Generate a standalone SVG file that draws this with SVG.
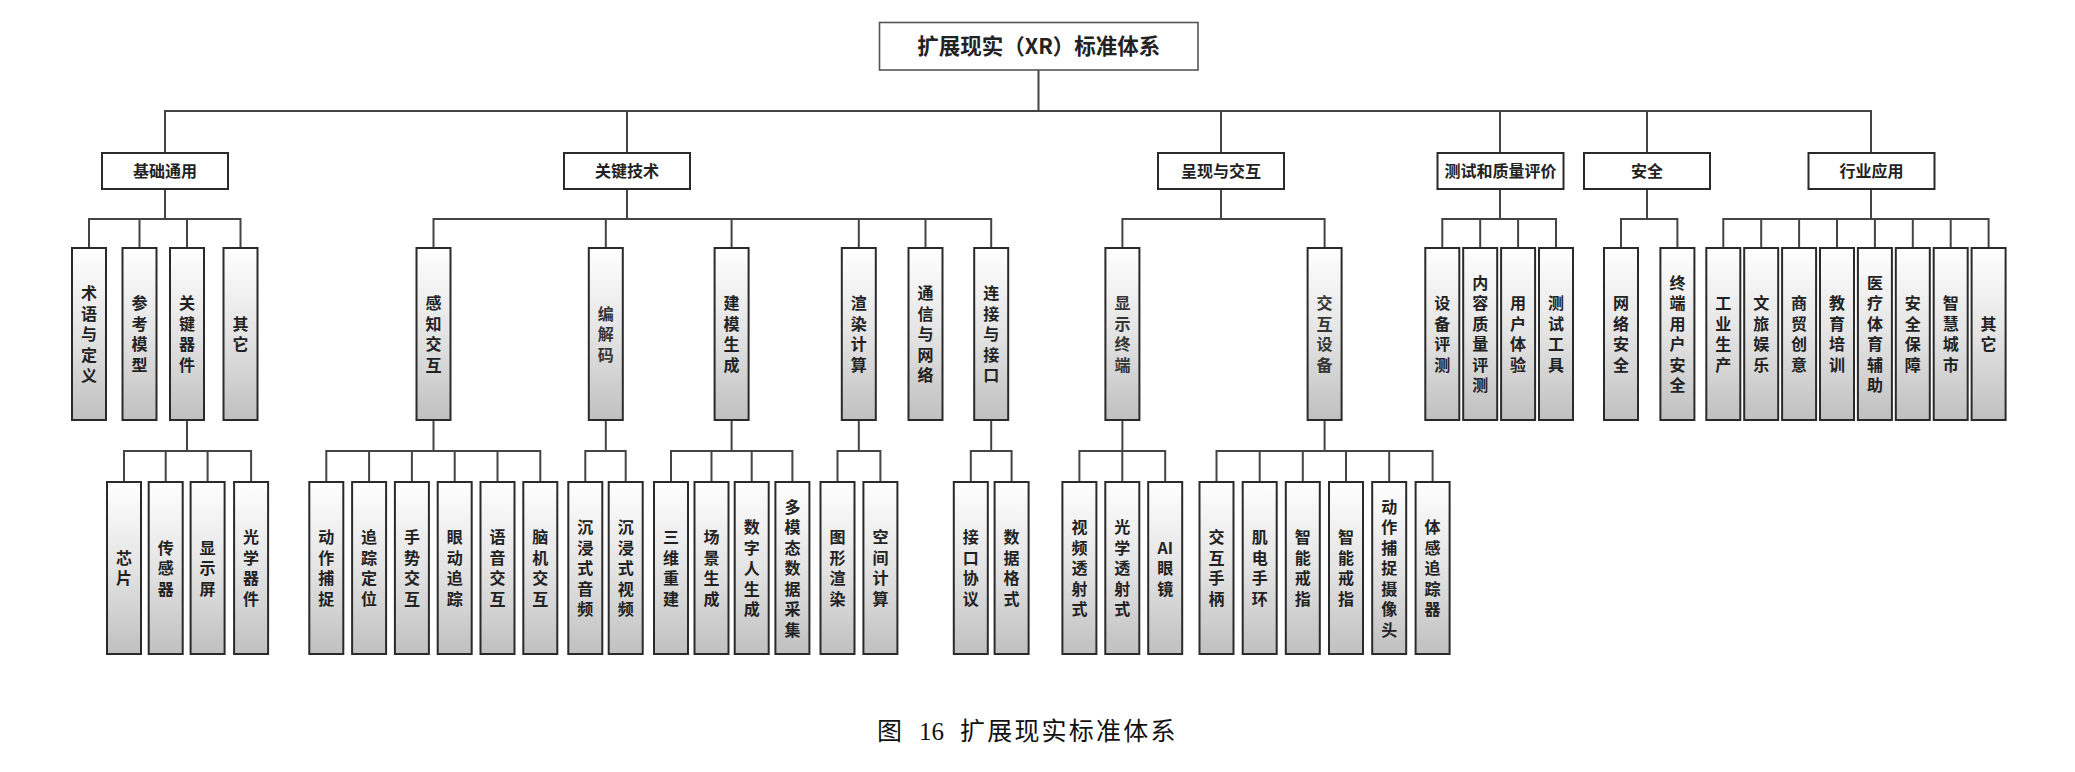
<svg xmlns="http://www.w3.org/2000/svg" width="2075" height="772" viewBox="0 0 2075 772">
<defs>
<linearGradient id="g" x1="0" y1="0" x2="0" y2="1">
<stop offset="0" stop-color="#ffffff"/>
<stop offset="0.5" stop-color="#e4e4e4"/>
<stop offset="1" stop-color="#c0c0c0"/>
</linearGradient>
<style>
.ln{fill:none;stroke:#444;stroke-width:2;stroke-linecap:square}
.rb{fill:#fff;stroke:#555;stroke-width:1.6}
.b1{fill:#fff;stroke:#2a2a2a;stroke-width:2}
.bx{fill:url(#g);stroke:#2a2a2a;stroke-width:2}
.t{font-family:"Noto Sans CJK SC","Noto Sans",sans-serif;font-weight:700;font-size:16px;text-anchor:middle;fill:#222}
.lt{fill:#363636}
.rt{font-size:21.5px}
.cap{font-family:"Liberation Serif","Noto Sans CJK SC",serif;font-size:25px;fill:#111}
</style>
</defs>
<g id="connectors">
<path class="ln" d="M1038.5 70V111M165 111H1871M165 111V153M627 111V153M1221 111V153M1500 111V153M1647 111V153M1871 111V153"/>
<path class="ln" d="M165 189V219M89 219H240.5M89 219V248M139.5 219V248M187 219V248M240.5 219V248"/>
<path class="ln" d="M627 189V219M433.5 219H991.2M433.5 219V248M605.8 219V248M731.6 219V248M858.8 219V248M925.5 219V248M991.2 219V248"/>
<path class="ln" d="M1221 189V219M1122.4 219H1324.6M1122.4 219V248M1324.6 219V248"/>
<path class="ln" d="M1500 189V219M1442.3 219H1556M1442.3 219V248M1480.2 219V248M1518.1 219V248M1556 219V248"/>
<path class="ln" d="M1647 189V219M1621 219H1677.4M1621 219V248M1677.4 219V248"/>
<path class="ln" d="M1871 189V219M1723.3 219H1988.6M1723.3 219V248M1761.2 219V248M1799.1 219V248M1837 219V248M1874.9 219V248M1912.8 219V248M1950.7 219V248M1988.6 219V248"/>
<path class="ln" d="M187 420V451M124 451H251.1M124 451V482M165.7 451V482M207.6 451V482M251.1 451V482"/>
<path class="ln" d="M433.5 420V451M326.3 451H540.3M326.3 451V482M369.1 451V482M411.9 451V482M454.7 451V482M497.5 451V482M540.3 451V482"/>
<path class="ln" d="M605.8 420V451M585.3 451H625.7M585.3 451V482M625.7 451V482"/>
<path class="ln" d="M731.6 420V451M671 451H792.4M671 451V482M711.5 451V482M751.7 451V482M792.4 451V482"/>
<path class="ln" d="M858.8 420V451M837.5 451H880.4M837.5 451V482M880.4 451V482"/>
<path class="ln" d="M991.2 420V451M970.8 451H1011.6M970.8 451V482M1011.6 451V482"/>
<path class="ln" d="M1122.4 420V451M1079.4 451H1165.2M1079.4 451V482M1122.3 451V482M1165.2 451V482"/>
<path class="ln" d="M1324.6 420V451M1216.5 451H1432.6M1216.5 451V482M1259.7 451V482M1302.8 451V482M1346 451V482M1389.2 451V482M1432.6 451V482"/>
</g>
<g id="root"><rect class="rb" x="879.5" y="22.5" width="318.5" height="47.5"/><text class="t rt" x="1038.8" y="54">扩展现实（XR）标准体系</text></g>
<g id="l1-jichu"><rect class="b1" x="102" y="153" width="126" height="36"/><text class="t" x="165" y="177">基础通用</text></g>
<g id="l1-guanjian"><rect class="b1" x="564" y="153" width="126" height="36"/><text class="t" x="627" y="177">关键技术</text></g>
<g id="l1-chengxian"><rect class="b1" x="1158" y="153" width="126" height="36"/><text class="t" x="1221" y="177">呈现与交互</text></g>
<g id="l1-ceshi"><rect class="b1" x="1437.5" y="153" width="126" height="36"/><text class="t" x="1500.5" y="177">测试和质量评价</text></g>
<g id="l1-anquan"><rect class="b1" x="1584" y="153" width="126" height="36"/><text class="t" x="1647" y="177">安全</text></g>
<g id="l1-hangye"><rect class="b1" x="1808.5" y="153" width="126" height="36"/><text class="t" x="1871.5" y="177">行业应用</text></g>

<g id="n-shuyu"><rect class="bx" x="72" y="248" width="34" height="172"/><text class="t" x="89" y="299"><tspan x="89">术</tspan><tspan x="89" dy="20.5">语</tspan><tspan x="89" dy="20.5">与</tspan><tspan x="89" dy="20.5">定</tspan><tspan x="89" dy="20.5">义</tspan></text></g>
<g id="n-cankao"><rect class="bx" x="122.5" y="248" width="34" height="172"/><text class="t" x="139.5" y="309.25"><tspan x="139.5">参</tspan><tspan x="139.5" dy="20.5">考</tspan><tspan x="139.5" dy="20.5">模</tspan><tspan x="139.5" dy="20.5">型</tspan></text></g>
<g id="n-guanjianqijian"><rect class="bx" x="170" y="248" width="34" height="172"/><text class="t" x="187" y="309.25"><tspan x="187">关</tspan><tspan x="187" dy="20.5">键</tspan><tspan x="187" dy="20.5">器</tspan><tspan x="187" dy="20.5">件</tspan></text></g>
<g id="n-qita1"><rect class="bx" x="223.5" y="248" width="34" height="172"/><text class="t" x="240.5" y="329.75"><tspan x="240.5">其</tspan><tspan x="240.5" dy="20.5">它</tspan></text></g>
<g id="n-ganzhi"><rect class="bx" x="416.5" y="248" width="34" height="172"/><text class="t" x="433.5" y="309.25"><tspan x="433.5">感</tspan><tspan x="433.5" dy="20.5">知</tspan><tspan x="433.5" dy="20.5">交</tspan><tspan x="433.5" dy="20.5">互</tspan></text></g>
<g id="n-bianjiema"><rect class="bx" x="588.8" y="248" width="34" height="172"/><text class="t lt" x="605.8" y="319.5"><tspan x="605.8">编</tspan><tspan x="605.8" dy="20.5">解</tspan><tspan x="605.8" dy="20.5">码</tspan></text></g>
<g id="n-jianmo"><rect class="bx" x="714.6" y="248" width="34" height="172"/><text class="t" x="731.6" y="309.25"><tspan x="731.6">建</tspan><tspan x="731.6" dy="20.5">模</tspan><tspan x="731.6" dy="20.5">生</tspan><tspan x="731.6" dy="20.5">成</tspan></text></g>
<g id="n-xuanran"><rect class="bx" x="841.8" y="248" width="34" height="172"/><text class="t" x="858.8" y="309.25"><tspan x="858.8">渲</tspan><tspan x="858.8" dy="20.5">染</tspan><tspan x="858.8" dy="20.5">计</tspan><tspan x="858.8" dy="20.5">算</tspan></text></g>
<g id="n-tongxin"><rect class="bx" x="908.5" y="248" width="34" height="172"/><text class="t" x="925.5" y="299"><tspan x="925.5">通</tspan><tspan x="925.5" dy="20.5">信</tspan><tspan x="925.5" dy="20.5">与</tspan><tspan x="925.5" dy="20.5">网</tspan><tspan x="925.5" dy="20.5">络</tspan></text></g>
<g id="n-lianjie"><rect class="bx" x="974.2" y="248" width="34" height="172"/><text class="t" x="991.2" y="299"><tspan x="991.2">连</tspan><tspan x="991.2" dy="20.5">接</tspan><tspan x="991.2" dy="20.5">与</tspan><tspan x="991.2" dy="20.5">接</tspan><tspan x="991.2" dy="20.5">口</tspan></text></g>
<g id="n-xianshizhongduan"><rect class="bx" x="1105.4" y="248" width="34" height="172"/><text class="t lt" x="1122.4" y="309.25"><tspan x="1122.4">显</tspan><tspan x="1122.4" dy="20.5">示</tspan><tspan x="1122.4" dy="20.5">终</tspan><tspan x="1122.4" dy="20.5">端</tspan></text></g>
<g id="n-jiaohushebei"><rect class="bx" x="1307.6" y="248" width="34" height="172"/><text class="t lt" x="1324.6" y="309.25"><tspan x="1324.6">交</tspan><tspan x="1324.6" dy="20.5">互</tspan><tspan x="1324.6" dy="20.5">设</tspan><tspan x="1324.6" dy="20.5">备</tspan></text></g>
<g id="n-shebeipingce"><rect class="bx" x="1425.3" y="248" width="34" height="172"/><text class="t" x="1442.3" y="309.25"><tspan x="1442.3">设</tspan><tspan x="1442.3" dy="20.5">备</tspan><tspan x="1442.3" dy="20.5">评</tspan><tspan x="1442.3" dy="20.5">测</tspan></text></g>
<g id="n-neirong"><rect class="bx" x="1463.2" y="248" width="34" height="172"/><text class="t" x="1480.2" y="288.75"><tspan x="1480.2">内</tspan><tspan x="1480.2" dy="20.5">容</tspan><tspan x="1480.2" dy="20.5">质</tspan><tspan x="1480.2" dy="20.5">量</tspan><tspan x="1480.2" dy="20.5">评</tspan><tspan x="1480.2" dy="20.5">测</tspan></text></g>
<g id="n-yonghu"><rect class="bx" x="1501.1" y="248" width="34" height="172"/><text class="t" x="1518.1" y="309.25"><tspan x="1518.1">用</tspan><tspan x="1518.1" dy="20.5">户</tspan><tspan x="1518.1" dy="20.5">体</tspan><tspan x="1518.1" dy="20.5">验</tspan></text></g>
<g id="n-ceshigongju"><rect class="bx" x="1539" y="248" width="34" height="172"/><text class="t" x="1556" y="309.25"><tspan x="1556">测</tspan><tspan x="1556" dy="20.5">试</tspan><tspan x="1556" dy="20.5">工</tspan><tspan x="1556" dy="20.5">具</tspan></text></g>
<g id="n-wangluo"><rect class="bx" x="1604" y="248" width="34" height="172"/><text class="t" x="1621" y="309.25"><tspan x="1621">网</tspan><tspan x="1621" dy="20.5">络</tspan><tspan x="1621" dy="20.5">安</tspan><tspan x="1621" dy="20.5">全</tspan></text></g>
<g id="n-zhongduan"><rect class="bx" x="1660.4" y="248" width="34" height="172"/><text class="t" x="1677.4" y="288.75"><tspan x="1677.4">终</tspan><tspan x="1677.4" dy="20.5">端</tspan><tspan x="1677.4" dy="20.5">用</tspan><tspan x="1677.4" dy="20.5">户</tspan><tspan x="1677.4" dy="20.5">安</tspan><tspan x="1677.4" dy="20.5">全</tspan></text></g>
<g id="n-gongye"><rect class="bx" x="1706.3" y="248" width="34" height="172"/><text class="t" x="1723.3" y="309.25"><tspan x="1723.3">工</tspan><tspan x="1723.3" dy="20.5">业</tspan><tspan x="1723.3" dy="20.5">生</tspan><tspan x="1723.3" dy="20.5">产</tspan></text></g>
<g id="n-wenlv"><rect class="bx" x="1744.2" y="248" width="34" height="172"/><text class="t" x="1761.2" y="309.25"><tspan x="1761.2">文</tspan><tspan x="1761.2" dy="20.5">旅</tspan><tspan x="1761.2" dy="20.5">娱</tspan><tspan x="1761.2" dy="20.5">乐</tspan></text></g>
<g id="n-shangmao"><rect class="bx" x="1782.1" y="248" width="34" height="172"/><text class="t" x="1799.1" y="309.25"><tspan x="1799.1">商</tspan><tspan x="1799.1" dy="20.5">贸</tspan><tspan x="1799.1" dy="20.5">创</tspan><tspan x="1799.1" dy="20.5">意</tspan></text></g>
<g id="n-jiaoyu"><rect class="bx" x="1820" y="248" width="34" height="172"/><text class="t" x="1837" y="309.25"><tspan x="1837">教</tspan><tspan x="1837" dy="20.5">育</tspan><tspan x="1837" dy="20.5">培</tspan><tspan x="1837" dy="20.5">训</tspan></text></g>
<g id="n-yiliao"><rect class="bx" x="1857.9" y="248" width="34" height="172"/><text class="t" x="1874.9" y="288.75"><tspan x="1874.9">医</tspan><tspan x="1874.9" dy="20.5">疗</tspan><tspan x="1874.9" dy="20.5">体</tspan><tspan x="1874.9" dy="20.5">育</tspan><tspan x="1874.9" dy="20.5">辅</tspan><tspan x="1874.9" dy="20.5">助</tspan></text></g>
<g id="n-anquanbaozhang"><rect class="bx" x="1895.8" y="248" width="34" height="172"/><text class="t" x="1912.8" y="309.25"><tspan x="1912.8">安</tspan><tspan x="1912.8" dy="20.5">全</tspan><tspan x="1912.8" dy="20.5">保</tspan><tspan x="1912.8" dy="20.5">障</tspan></text></g>
<g id="n-zhihui"><rect class="bx" x="1933.7" y="248" width="34" height="172"/><text class="t" x="1950.7" y="309.25"><tspan x="1950.7">智</tspan><tspan x="1950.7" dy="20.5">慧</tspan><tspan x="1950.7" dy="20.5">城</tspan><tspan x="1950.7" dy="20.5">市</tspan></text></g>
<g id="n-qita2"><rect class="bx" x="1971.6" y="248" width="34" height="172"/><text class="t" x="1988.6" y="329.75"><tspan x="1988.6">其</tspan><tspan x="1988.6" dy="20.5">它</tspan></text></g>

<g id="n-xinpian"><rect class="bx" x="107" y="482" width="34" height="172"/><text class="t" x="124" y="563.75"><tspan x="124">芯</tspan><tspan x="124" dy="20.5">片</tspan></text></g>
<g id="n-chuanganqi"><rect class="bx" x="148.7" y="482" width="34" height="172"/><text class="t" x="165.7" y="553.5"><tspan x="165.7">传</tspan><tspan x="165.7" dy="20.5">感</tspan><tspan x="165.7" dy="20.5">器</tspan></text></g>
<g id="n-xianshiping"><rect class="bx" x="190.6" y="482" width="34" height="172"/><text class="t" x="207.6" y="553.5"><tspan x="207.6">显</tspan><tspan x="207.6" dy="20.5">示</tspan><tspan x="207.6" dy="20.5">屏</tspan></text></g>
<g id="n-guangxueqijian"><rect class="bx" x="234.1" y="482" width="34" height="172"/><text class="t" x="251.1" y="543.25"><tspan x="251.1">光</tspan><tspan x="251.1" dy="20.5">学</tspan><tspan x="251.1" dy="20.5">器</tspan><tspan x="251.1" dy="20.5">件</tspan></text></g>
<g id="n-dongzuobuzhuo"><rect class="bx" x="309.3" y="482" width="34" height="172"/><text class="t" x="326.3" y="543.25"><tspan x="326.3">动</tspan><tspan x="326.3" dy="20.5">作</tspan><tspan x="326.3" dy="20.5">捕</tspan><tspan x="326.3" dy="20.5">捉</tspan></text></g>
<g id="n-zhuizong"><rect class="bx" x="352.1" y="482" width="34" height="172"/><text class="t" x="369.1" y="543.25"><tspan x="369.1">追</tspan><tspan x="369.1" dy="20.5">踪</tspan><tspan x="369.1" dy="20.5">定</tspan><tspan x="369.1" dy="20.5">位</tspan></text></g>
<g id="n-shoushi"><rect class="bx" x="394.9" y="482" width="34" height="172"/><text class="t" x="411.9" y="543.25"><tspan x="411.9">手</tspan><tspan x="411.9" dy="20.5">势</tspan><tspan x="411.9" dy="20.5">交</tspan><tspan x="411.9" dy="20.5">互</tspan></text></g>
<g id="n-yandong"><rect class="bx" x="437.7" y="482" width="34" height="172"/><text class="t" x="454.7" y="543.25"><tspan x="454.7">眼</tspan><tspan x="454.7" dy="20.5">动</tspan><tspan x="454.7" dy="20.5">追</tspan><tspan x="454.7" dy="20.5">踪</tspan></text></g>
<g id="n-yuyin"><rect class="bx" x="480.5" y="482" width="34" height="172"/><text class="t" x="497.5" y="543.25"><tspan x="497.5">语</tspan><tspan x="497.5" dy="20.5">音</tspan><tspan x="497.5" dy="20.5">交</tspan><tspan x="497.5" dy="20.5">互</tspan></text></g>
<g id="n-naoji"><rect class="bx" x="523.3" y="482" width="34" height="172"/><text class="t" x="540.3" y="543.25"><tspan x="540.3">脑</tspan><tspan x="540.3" dy="20.5">机</tspan><tspan x="540.3" dy="20.5">交</tspan><tspan x="540.3" dy="20.5">互</tspan></text></g>
<g id="n-yinpin"><rect class="bx" x="568.3" y="482" width="34" height="172"/><text class="t" x="585.3" y="533"><tspan x="585.3">沉</tspan><tspan x="585.3" dy="20.5">浸</tspan><tspan x="585.3" dy="20.5">式</tspan><tspan x="585.3" dy="20.5">音</tspan><tspan x="585.3" dy="20.5">频</tspan></text></g>
<g id="n-shipin"><rect class="bx" x="608.7" y="482" width="34" height="172"/><text class="t" x="625.7" y="533"><tspan x="625.7">沉</tspan><tspan x="625.7" dy="20.5">浸</tspan><tspan x="625.7" dy="20.5">式</tspan><tspan x="625.7" dy="20.5">视</tspan><tspan x="625.7" dy="20.5">频</tspan></text></g>
<g id="n-sanwei"><rect class="bx" x="654" y="482" width="34" height="172"/><text class="t" x="671" y="543.25"><tspan x="671">三</tspan><tspan x="671" dy="20.5">维</tspan><tspan x="671" dy="20.5">重</tspan><tspan x="671" dy="20.5">建</tspan></text></g>
<g id="n-changjing"><rect class="bx" x="694.5" y="482" width="34" height="172"/><text class="t" x="711.5" y="543.25"><tspan x="711.5">场</tspan><tspan x="711.5" dy="20.5">景</tspan><tspan x="711.5" dy="20.5">生</tspan><tspan x="711.5" dy="20.5">成</tspan></text></g>
<g id="n-shuziren"><rect class="bx" x="734.7" y="482" width="34" height="172"/><text class="t" x="751.7" y="533"><tspan x="751.7">数</tspan><tspan x="751.7" dy="20.5">字</tspan><tspan x="751.7" dy="20.5">人</tspan><tspan x="751.7" dy="20.5">生</tspan><tspan x="751.7" dy="20.5">成</tspan></text></g>
<g id="n-duomotai"><rect class="bx" x="775.4" y="482" width="34" height="172"/><text class="t" x="792.4" y="512.5"><tspan x="792.4">多</tspan><tspan x="792.4" dy="20.5">模</tspan><tspan x="792.4" dy="20.5">态</tspan><tspan x="792.4" dy="20.5">数</tspan><tspan x="792.4" dy="20.5">据</tspan><tspan x="792.4" dy="20.5">采</tspan><tspan x="792.4" dy="20.5">集</tspan></text></g>
<g id="n-tuxing"><rect class="bx" x="820.5" y="482" width="34" height="172"/><text class="t" x="837.5" y="543.25"><tspan x="837.5">图</tspan><tspan x="837.5" dy="20.5">形</tspan><tspan x="837.5" dy="20.5">渲</tspan><tspan x="837.5" dy="20.5">染</tspan></text></g>
<g id="n-kongjian"><rect class="bx" x="863.4" y="482" width="34" height="172"/><text class="t" x="880.4" y="543.25"><tspan x="880.4">空</tspan><tspan x="880.4" dy="20.5">间</tspan><tspan x="880.4" dy="20.5">计</tspan><tspan x="880.4" dy="20.5">算</tspan></text></g>
<g id="n-jiekou"><rect class="bx" x="953.8" y="482" width="34" height="172"/><text class="t" x="970.8" y="543.25"><tspan x="970.8">接</tspan><tspan x="970.8" dy="20.5">口</tspan><tspan x="970.8" dy="20.5">协</tspan><tspan x="970.8" dy="20.5">议</tspan></text></g>
<g id="n-shujugeshi"><rect class="bx" x="994.6" y="482" width="34" height="172"/><text class="t" x="1011.6" y="543.25"><tspan x="1011.6">数</tspan><tspan x="1011.6" dy="20.5">据</tspan><tspan x="1011.6" dy="20.5">格</tspan><tspan x="1011.6" dy="20.5">式</tspan></text></g>
<g id="n-shipintoushe"><rect class="bx" x="1062.4" y="482" width="34" height="172"/><text class="t" x="1079.4" y="533"><tspan x="1079.4">视</tspan><tspan x="1079.4" dy="20.5">频</tspan><tspan x="1079.4" dy="20.5">透</tspan><tspan x="1079.4" dy="20.5">射</tspan><tspan x="1079.4" dy="20.5">式</tspan></text></g>
<g id="n-guangxuetoushe"><rect class="bx" x="1105.3" y="482" width="34" height="172"/><text class="t" x="1122.3" y="533"><tspan x="1122.3">光</tspan><tspan x="1122.3" dy="20.5">学</tspan><tspan x="1122.3" dy="20.5">透</tspan><tspan x="1122.3" dy="20.5">射</tspan><tspan x="1122.3" dy="20.5">式</tspan></text></g>
<g id="n-aiyanjing"><rect class="bx" x="1148.2" y="482" width="34" height="172"/><text class="t" x="1165.2" y="553.5"><tspan x="1165.2">AI</tspan><tspan x="1165.2" dy="20.5">眼</tspan><tspan x="1165.2" dy="20.5">镜</tspan></text></g>
<g id="n-shoubing"><rect class="bx" x="1199.5" y="482" width="34" height="172"/><text class="t" x="1216.5" y="543.25"><tspan x="1216.5">交</tspan><tspan x="1216.5" dy="20.5">互</tspan><tspan x="1216.5" dy="20.5">手</tspan><tspan x="1216.5" dy="20.5">柄</tspan></text></g>
<g id="n-jidian"><rect class="bx" x="1242.7" y="482" width="34" height="172"/><text class="t" x="1259.7" y="543.25"><tspan x="1259.7">肌</tspan><tspan x="1259.7" dy="20.5">电</tspan><tspan x="1259.7" dy="20.5">手</tspan><tspan x="1259.7" dy="20.5">环</tspan></text></g>
<g id="n-jiezhi1"><rect class="bx" x="1285.8" y="482" width="34" height="172"/><text class="t" x="1302.8" y="543.25"><tspan x="1302.8">智</tspan><tspan x="1302.8" dy="20.5">能</tspan><tspan x="1302.8" dy="20.5">戒</tspan><tspan x="1302.8" dy="20.5">指</tspan></text></g>
<g id="n-jiezhi2"><rect class="bx" x="1329" y="482" width="34" height="172"/><text class="t" x="1346" y="543.25"><tspan x="1346">智</tspan><tspan x="1346" dy="20.5">能</tspan><tspan x="1346" dy="20.5">戒</tspan><tspan x="1346" dy="20.5">指</tspan></text></g>
<g id="n-shexiangtou"><rect class="bx" x="1372.2" y="482" width="34" height="172"/><text class="t" x="1389.2" y="512.5"><tspan x="1389.2">动</tspan><tspan x="1389.2" dy="20.5">作</tspan><tspan x="1389.2" dy="20.5">捕</tspan><tspan x="1389.2" dy="20.5">捉</tspan><tspan x="1389.2" dy="20.5">摄</tspan><tspan x="1389.2" dy="20.5">像</tspan><tspan x="1389.2" dy="20.5">头</tspan></text></g>
<g id="n-tigan"><rect class="bx" x="1415.6" y="482" width="34" height="172"/><text class="t" x="1432.6" y="533"><tspan x="1432.6">体</tspan><tspan x="1432.6" dy="20.5">感</tspan><tspan x="1432.6" dy="20.5">追</tspan><tspan x="1432.6" dy="20.5">踪</tspan><tspan x="1432.6" dy="20.5">器</tspan></text></g>

<g id="caption"><text class="cap" y="740"><tspan x="877">图</tspan><tspan x="919">16</tspan><tspan x="960" letter-spacing="2.2">扩展现实标准体系</tspan></text></g>
</svg>
